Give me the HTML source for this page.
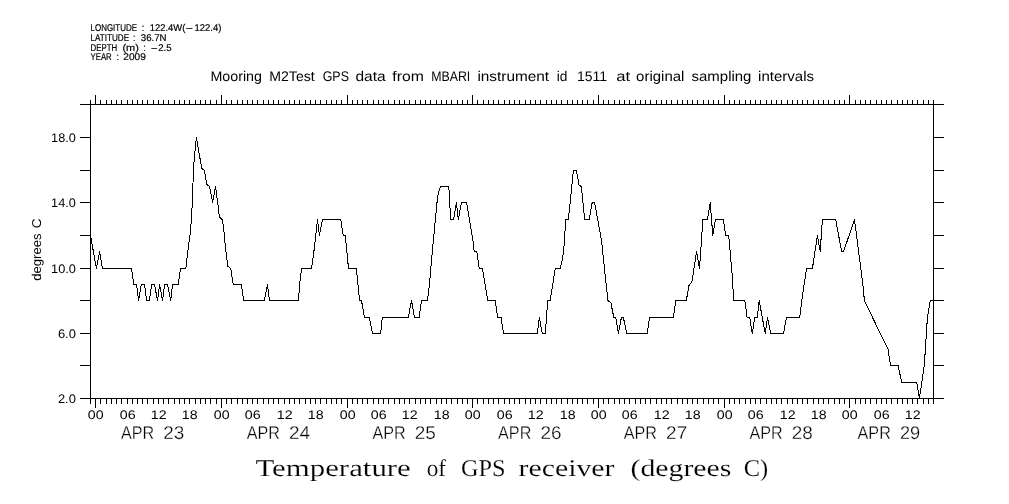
<!DOCTYPE html>
<html lang="en">
<head>
<meta charset="utf-8">
<title>Temperature of GPS receiver (degrees C)</title>
<style>
html,body{margin:0;padding:0;background:#fff;}
body{width:1009px;height:504px;overflow:hidden;}
svg{display:block;}
text{font-family:"Liberation Sans",sans-serif;fill:#000;text-rendering:geometricPrecision;}
.hdr text{font-size:9.8px;stroke:#000;stroke-width:.2px;}
.ttl{font-size:14px;}
.hrs text{font-size:12.5px;}
.days text{font-size:18.4px;stroke:#fff;stroke-width:.3px;}
.yl text{font-size:12.5px;}
.yl .rot{font-size:12.8px;}
.big{font-family:"Liberation Serif",serif;font-size:24px;stroke:#fff;stroke-width:.15px;}
.ln{fill:none;stroke:#000;stroke-width:1;shape-rendering:crispEdges;}
</style>
</head>
<body>
<svg width="1009" height="504" viewBox="0 0 1009 504">
<rect width="1009" height="504" fill="#fff"/>
<g class="hdr">
<text y="31"><tspan x="90.5" textLength="46.5" lengthAdjust="spacingAndGlyphs">LONGITUDE</tspan> <tspan x="141.8" textLength="2.5" lengthAdjust="spacingAndGlyphs">:</tspan> <tspan x="149.7" textLength="35.6" lengthAdjust="spacingAndGlyphs">122.4W(</tspan><tspan x="185.4" textLength="7.6" lengthAdjust="spacingAndGlyphs">-</tspan><tspan x="194.5" textLength="26.8" lengthAdjust="spacingAndGlyphs">122.4)</tspan></text>
<text y="41"><tspan x="90.5" textLength="38.6" lengthAdjust="spacingAndGlyphs">LATITUDE</tspan> <tspan x="132.9" textLength="2.4" lengthAdjust="spacingAndGlyphs">:</tspan> <tspan x="140.8" textLength="25.8" lengthAdjust="spacingAndGlyphs">36.7N</tspan></text>
<text y="50.8"><tspan x="90.5" textLength="26.7" lengthAdjust="spacingAndGlyphs">DEPTH</tspan> <tspan x="122.4" textLength="16.4" lengthAdjust="spacingAndGlyphs">(m)</tspan> <tspan x="143.2" textLength="2.4" lengthAdjust="spacingAndGlyphs">:</tspan> <tspan x="150.8" textLength="7.0" lengthAdjust="spacingAndGlyphs">-</tspan><tspan x="158.2" textLength="13.4" lengthAdjust="spacingAndGlyphs">2.5</tspan></text>
<text y="60"><tspan x="90.5" textLength="21.2" lengthAdjust="spacingAndGlyphs">YEAR</tspan> <tspan x="116.5" textLength="2.4" lengthAdjust="spacingAndGlyphs">:</tspan> <tspan x="123.3" textLength="22.5" lengthAdjust="spacingAndGlyphs">2009</tspan></text>
</g>
<text class="ttl" y="81"><tspan x="210.4" textLength="51.6" lengthAdjust="spacingAndGlyphs">Mooring</tspan> <tspan x="269.3" textLength="45.4" lengthAdjust="spacingAndGlyphs">M2Test</tspan> <tspan x="322.7" textLength="26.3" lengthAdjust="spacingAndGlyphs">GPS</tspan> <tspan x="355.4" textLength="30.2" lengthAdjust="spacingAndGlyphs">data</tspan> <tspan x="392.3" textLength="31.5" lengthAdjust="spacingAndGlyphs">from</tspan> <tspan x="431.2" textLength="39.1" lengthAdjust="spacingAndGlyphs">MBARI</tspan> <tspan x="477.4" textLength="71.7" lengthAdjust="spacingAndGlyphs">instrument</tspan> <tspan x="556.7" textLength="10.7" lengthAdjust="spacingAndGlyphs">id</tspan> <tspan x="576.9" textLength="30.1" lengthAdjust="spacingAndGlyphs">1511</tspan> <tspan x="616.2" textLength="13.9" lengthAdjust="spacingAndGlyphs">at</tspan> <tspan x="636.1" textLength="48.3" lengthAdjust="spacingAndGlyphs">original</tspan> <tspan x="691.6" textLength="59.8" lengthAdjust="spacingAndGlyphs">sampling</tspan> <tspan x="758.1" textLength="55.9" lengthAdjust="spacingAndGlyphs">intervals</tspan></text>
<path class="ln" d="M80,104.5H944M80,398.5H944M90.5,104.5V398.5M933.5,104.5V398.5"/>
<path class="ln" d="M95.5,104.5V95.0M100.5,104.5V100.0M106.5,104.5V100.0M111.5,104.5V100.0M116.5,104.5V100.0M121.5,104.5V100.0M127.5,104.5V100.0M132.5,104.5V100.0M137.5,104.5V100.0M142.5,104.5V100.0M147.5,104.5V100.0M153.5,104.5V100.0M158.5,104.5V100.0M163.5,104.5V100.0M168.5,104.5V100.0M174.5,104.5V100.0M179.5,104.5V100.0M184.5,104.5V100.0M189.5,104.5V100.0M195.5,104.5V100.0M200.5,104.5V100.0M205.5,104.5V100.0M210.5,104.5V100.0M216.5,104.5V100.0M221.5,104.5V95.0M226.5,104.5V100.0M231.5,104.5V100.0M237.5,104.5V100.0M242.5,104.5V100.0M247.5,104.5V100.0M252.5,104.5V100.0M257.5,104.5V100.0M263.5,104.5V100.0M268.5,104.5V100.0M273.5,104.5V100.0M278.5,104.5V100.0M284.5,104.5V100.0M289.5,104.5V100.0M294.5,104.5V100.0M299.5,104.5V100.0M305.5,104.5V100.0M310.5,104.5V100.0M315.5,104.5V100.0M320.5,104.5V100.0M326.5,104.5V100.0M331.5,104.5V100.0M336.5,104.5V100.0M341.5,104.5V100.0M347.5,104.5V95.0M352.5,104.5V100.0M357.5,104.5V100.0M362.5,104.5V100.0M367.5,104.5V100.0M373.5,104.5V100.0M378.5,104.5V100.0M383.5,104.5V100.0M388.5,104.5V100.0M394.5,104.5V100.0M399.5,104.5V100.0M404.5,104.5V100.0M409.5,104.5V100.0M415.5,104.5V100.0M420.5,104.5V100.0M425.5,104.5V100.0M430.5,104.5V100.0M436.5,104.5V100.0M441.5,104.5V100.0M446.5,104.5V100.0M451.5,104.5V100.0M457.5,104.5V100.0M462.5,104.5V100.0M467.5,104.5V100.0M472.5,104.5V95.0M477.5,104.5V100.0M483.5,104.5V100.0M488.5,104.5V100.0M493.5,104.5V100.0M498.5,104.5V100.0M504.5,104.5V100.0M509.5,104.5V100.0M514.5,104.5V100.0M519.5,104.5V100.0M525.5,104.5V100.0M530.5,104.5V100.0M535.5,104.5V100.0M540.5,104.5V100.0M546.5,104.5V100.0M551.5,104.5V100.0M556.5,104.5V100.0M561.5,104.5V100.0M567.5,104.5V100.0M572.5,104.5V100.0M577.5,104.5V100.0M582.5,104.5V100.0M587.5,104.5V100.0M593.5,104.5V100.0M598.5,104.5V95.0M603.5,104.5V100.0M608.5,104.5V100.0M614.5,104.5V100.0M619.5,104.5V100.0M624.5,104.5V100.0M629.5,104.5V100.0M635.5,104.5V100.0M640.5,104.5V100.0M645.5,104.5V100.0M650.5,104.5V100.0M656.5,104.5V100.0M661.5,104.5V100.0M666.5,104.5V100.0M671.5,104.5V100.0M677.5,104.5V100.0M682.5,104.5V100.0M687.5,104.5V100.0M692.5,104.5V100.0M697.5,104.5V100.0M703.5,104.5V100.0M708.5,104.5V100.0M713.5,104.5V100.0M718.5,104.5V100.0M724.5,104.5V95.0M729.5,104.5V100.0M734.5,104.5V100.0M739.5,104.5V100.0M745.5,104.5V100.0M750.5,104.5V100.0M755.5,104.5V100.0M760.5,104.5V100.0M766.5,104.5V100.0M771.5,104.5V100.0M776.5,104.5V100.0M781.5,104.5V100.0M787.5,104.5V100.0M792.5,104.5V100.0M797.5,104.5V100.0M802.5,104.5V100.0M807.5,104.5V100.0M813.5,104.5V100.0M818.5,104.5V100.0M823.5,104.5V100.0M828.5,104.5V100.0M834.5,104.5V100.0M839.5,104.5V100.0M844.5,104.5V100.0M849.5,104.5V95.0M855.5,104.5V100.0M860.5,104.5V100.0M865.5,104.5V100.0M870.5,104.5V100.0M876.5,104.5V100.0M881.5,104.5V100.0M886.5,104.5V100.0M891.5,104.5V100.0M897.5,104.5V100.0M902.5,104.5V100.0M907.5,104.5V100.0M912.5,104.5V100.0M917.5,104.5V100.0M923.5,104.5V100.0M928.5,104.5V100.0M933.5,104.5V100.0M90.5,104.5V100.0"/>
<path class="ln" d="M95.5,398.5V408.0M100.5,398.5V404.0M106.5,398.5V404.0M111.5,398.5V404.0M116.5,398.5V404.0M121.5,398.5V404.0M127.5,398.5V404.0M132.5,398.5V404.0M137.5,398.5V404.0M142.5,398.5V404.0M147.5,398.5V404.0M153.5,398.5V404.0M158.5,398.5V404.0M163.5,398.5V404.0M168.5,398.5V404.0M174.5,398.5V404.0M179.5,398.5V404.0M184.5,398.5V404.0M189.5,398.5V404.0M195.5,398.5V404.0M200.5,398.5V404.0M205.5,398.5V404.0M210.5,398.5V404.0M216.5,398.5V404.0M221.5,398.5V408.0M226.5,398.5V404.0M231.5,398.5V404.0M237.5,398.5V404.0M242.5,398.5V404.0M247.5,398.5V404.0M252.5,398.5V404.0M257.5,398.5V404.0M263.5,398.5V404.0M268.5,398.5V404.0M273.5,398.5V404.0M278.5,398.5V404.0M284.5,398.5V404.0M289.5,398.5V404.0M294.5,398.5V404.0M299.5,398.5V404.0M305.5,398.5V404.0M310.5,398.5V404.0M315.5,398.5V404.0M320.5,398.5V404.0M326.5,398.5V404.0M331.5,398.5V404.0M336.5,398.5V404.0M341.5,398.5V404.0M347.5,398.5V408.0M352.5,398.5V404.0M357.5,398.5V404.0M362.5,398.5V404.0M367.5,398.5V404.0M373.5,398.5V404.0M378.5,398.5V404.0M383.5,398.5V404.0M388.5,398.5V404.0M394.5,398.5V404.0M399.5,398.5V404.0M404.5,398.5V404.0M409.5,398.5V404.0M415.5,398.5V404.0M420.5,398.5V404.0M425.5,398.5V404.0M430.5,398.5V404.0M436.5,398.5V404.0M441.5,398.5V404.0M446.5,398.5V404.0M451.5,398.5V404.0M457.5,398.5V404.0M462.5,398.5V404.0M467.5,398.5V404.0M472.5,398.5V408.0M477.5,398.5V404.0M483.5,398.5V404.0M488.5,398.5V404.0M493.5,398.5V404.0M498.5,398.5V404.0M504.5,398.5V404.0M509.5,398.5V404.0M514.5,398.5V404.0M519.5,398.5V404.0M525.5,398.5V404.0M530.5,398.5V404.0M535.5,398.5V404.0M540.5,398.5V404.0M546.5,398.5V404.0M551.5,398.5V404.0M556.5,398.5V404.0M561.5,398.5V404.0M567.5,398.5V404.0M572.5,398.5V404.0M577.5,398.5V404.0M582.5,398.5V404.0M587.5,398.5V404.0M593.5,398.5V404.0M598.5,398.5V408.0M603.5,398.5V404.0M608.5,398.5V404.0M614.5,398.5V404.0M619.5,398.5V404.0M624.5,398.5V404.0M629.5,398.5V404.0M635.5,398.5V404.0M640.5,398.5V404.0M645.5,398.5V404.0M650.5,398.5V404.0M656.5,398.5V404.0M661.5,398.5V404.0M666.5,398.5V404.0M671.5,398.5V404.0M677.5,398.5V404.0M682.5,398.5V404.0M687.5,398.5V404.0M692.5,398.5V404.0M697.5,398.5V404.0M703.5,398.5V404.0M708.5,398.5V404.0M713.5,398.5V404.0M718.5,398.5V404.0M724.5,398.5V408.0M729.5,398.5V404.0M734.5,398.5V404.0M739.5,398.5V404.0M745.5,398.5V404.0M750.5,398.5V404.0M755.5,398.5V404.0M760.5,398.5V404.0M766.5,398.5V404.0M771.5,398.5V404.0M776.5,398.5V404.0M781.5,398.5V404.0M787.5,398.5V404.0M792.5,398.5V404.0M797.5,398.5V404.0M802.5,398.5V404.0M807.5,398.5V404.0M813.5,398.5V404.0M818.5,398.5V404.0M823.5,398.5V404.0M828.5,398.5V404.0M834.5,398.5V404.0M839.5,398.5V404.0M844.5,398.5V404.0M849.5,398.5V408.0M855.5,398.5V404.0M860.5,398.5V404.0M865.5,398.5V404.0M870.5,398.5V404.0M876.5,398.5V404.0M881.5,398.5V404.0M886.5,398.5V404.0M891.5,398.5V404.0M897.5,398.5V404.0M902.5,398.5V404.0M907.5,398.5V404.0M912.5,398.5V404.0M917.5,398.5V404.0M923.5,398.5V404.0M928.5,398.5V404.0M933.5,398.5V404.0M90.5,398.5V404.0"/>
<path class="ln" d="M80,398.5H90.5M933.5,398.5H944M80,365.5H90.5M933.5,365.5H944M80,333.5H90.5M933.5,333.5H944M80,300.5H90.5M933.5,300.5H944M80,268.5H90.5M933.5,268.5H944M80,235.5H90.5M933.5,235.5H944M80,202.5H90.5M933.5,202.5H944M80,170.5H90.5M933.5,170.5H944M80,137.5H90.5M933.5,137.5H944"/>
<polyline class="ln" points="90.5,235.5 96.4,268.5 99.6,251.5 102.5,268.5 131.5,268.5 133.9,284.5 136.6,284.5 138.5,300.5 141.3,284.5 144.5,284.5 146.6,300.5 149.3,300.5 151.7,284.5 154.5,284.5 157.5,300.5 159.6,284.5 162.5,300.5 164.7,284.5 167.5,284.5 170.7,300.5 172.6,284.5 178.2,284.5 180.5,268.5 185.8,268.5 188.4,246.8 190.1,233.9 191.3,221.3 192.1,206.3 193,182.7 193.7,165.3 194.8,153.5 196.4,137.5 201.7,168.4 204.4,170.5 206.7,184.3 209.6,186.5 212.6,202.5 215.5,186.5 218.6,209.7 219.4,217.2 222.3,219.5 223.4,225.9 225.5,248.2 227.9,266.4 230.7,268.5 233.3,284.5 241.4,284.5 243.6,300.5 264.4,300.5 267.4,284.5 269.4,300.5 298.5,300.5 299.6,284.5 301.5,268.5 311.5,268.5 313.9,251.5 315.8,235.5 317.5,219.5 319.4,235.5 322.6,219.5 340.7,219.5 343.3,235.5 345.3,235.5 348.5,268.5 356.4,268.5 359.6,300.5 361.5,300.5 364.4,317.5 369.4,317.5 372.6,333.5 380.6,333.5 382.3,317.5 408.3,317.5 411.5,300.5 414.4,317.5 419.1,317.5 421.5,300.5 427.4,300.5 429.4,284.5 432.5,249.7 437.6,196.3 440.4,186.5 448.8,186.5 450.7,219.5 453.6,219.5 456.4,202.5 458.3,219.5 461.5,202.5 466.6,202.5 472.9,240.3 474.2,251.5 476.8,251.5 479.2,268.5 482.4,268.5 487.7,300.5 495.3,300.5 497.7,317.5 501,317.5 503.6,333.5 537.3,333.5 539.3,317.5 542.3,333.5 545.3,333.5 547.7,300.5 550.2,300.5 555.2,268.5 560.2,268.5 562.5,259.5 564.7,240.3 565.4,219.5 568.4,219.5 573.4,170.5 576.3,170.5 579.1,185.1 581.3,186.5 584.7,219.5 589.2,219.5 592.2,202.5 594.6,202.5 601.5,240.3 603.5,259.5 607.9,300.5 610.9,302.8 613.8,317.5 615.8,317.5 618.4,333.5 621.4,317.5 623.4,317.5 626.7,333.5 647.2,333.5 649.6,317.5 673.4,317.5 675.8,300.5 686.3,300.5 689.2,284.5 691.8,282.6 696.6,251.5 699.5,268.5 702.9,219.5 707.4,219.5 710.2,202.5 712.8,235.5 715.4,219.5 723.3,219.5 725.7,235.5 728.7,235.5 732.6,279.5 733.5,300.5 744.8,300.5 747.1,317.5 749.7,317.5 752.3,333.5 754.7,317.5 757.3,317.5 759.2,300.5 765.2,333.5 767.6,317.5 770.6,333.5 783.5,333.5 786.4,317.5 799.7,317.5 803.3,289.5 806.6,268.5 812.4,268.5 817.4,235.5 820.2,251.5 822.4,219.5 835.7,219.5 841.6,251.5 843.6,251.5 854.5,219.5 863.5,289.5 864.3,300.5 888.1,349.5 890.5,365.5 898.1,365.5 901.7,382.5 916.7,382.5 919.4,398.5 924.3,365.5 927.4,317.5 930.3,300.5 933.3,300.5"/>
<g class="yl">
<text x="57.9" y="402.8" textLength="18.0" lengthAdjust="spacingAndGlyphs">2.0</text>
<text x="57.9" y="337.8" textLength="18.0" lengthAdjust="spacingAndGlyphs">6.0</text>
<text x="51.1" y="272.8" textLength="24.8" lengthAdjust="spacingAndGlyphs">10.0</text>
<text x="51.1" y="206.8" textLength="24.8" lengthAdjust="spacingAndGlyphs">14.0</text>
<text x="51.1" y="141.8" textLength="24.8" lengthAdjust="spacingAndGlyphs">18.0</text>
<text class="rot" transform="translate(40.7,280.7) rotate(-90)"><tspan x="0" textLength="47.2" lengthAdjust="spacingAndGlyphs">degrees</tspan> <tspan x="52.5" textLength="9.8" lengthAdjust="spacingAndGlyphs">C</tspan></text>
</g>
<g class="hrs">
<text x="87.8" y="419" textLength="15.8" lengthAdjust="spacingAndGlyphs">00</text>
<text x="119.8" y="419" textLength="15.8" lengthAdjust="spacingAndGlyphs">06</text>
<text x="150.8" y="419" textLength="15.8" lengthAdjust="spacingAndGlyphs">12</text>
<text x="181.8" y="419" textLength="15.8" lengthAdjust="spacingAndGlyphs">18</text>
<text x="213.8" y="419" textLength="15.8" lengthAdjust="spacingAndGlyphs">00</text>
<text x="244.8" y="419" textLength="15.8" lengthAdjust="spacingAndGlyphs">06</text>
<text x="276.8" y="419" textLength="15.8" lengthAdjust="spacingAndGlyphs">12</text>
<text x="307.8" y="419" textLength="15.8" lengthAdjust="spacingAndGlyphs">18</text>
<text x="339.8" y="419" textLength="15.8" lengthAdjust="spacingAndGlyphs">00</text>
<text x="370.8" y="419" textLength="15.8" lengthAdjust="spacingAndGlyphs">06</text>
<text x="401.8" y="419" textLength="15.8" lengthAdjust="spacingAndGlyphs">12</text>
<text x="433.8" y="419" textLength="15.8" lengthAdjust="spacingAndGlyphs">18</text>
<text x="464.8" y="419" textLength="15.8" lengthAdjust="spacingAndGlyphs">00</text>
<text x="496.8" y="419" textLength="15.8" lengthAdjust="spacingAndGlyphs">06</text>
<text x="527.8" y="419" textLength="15.8" lengthAdjust="spacingAndGlyphs">12</text>
<text x="559.8" y="419" textLength="15.8" lengthAdjust="spacingAndGlyphs">18</text>
<text x="590.8" y="419" textLength="15.8" lengthAdjust="spacingAndGlyphs">00</text>
<text x="621.8" y="419" textLength="15.8" lengthAdjust="spacingAndGlyphs">06</text>
<text x="653.8" y="419" textLength="15.8" lengthAdjust="spacingAndGlyphs">12</text>
<text x="684.8" y="419" textLength="15.8" lengthAdjust="spacingAndGlyphs">18</text>
<text x="716.8" y="419" textLength="15.8" lengthAdjust="spacingAndGlyphs">00</text>
<text x="747.8" y="419" textLength="15.8" lengthAdjust="spacingAndGlyphs">06</text>
<text x="779.8" y="419" textLength="15.8" lengthAdjust="spacingAndGlyphs">12</text>
<text x="810.8" y="419" textLength="15.8" lengthAdjust="spacingAndGlyphs">18</text>
<text x="841.8" y="419" textLength="15.8" lengthAdjust="spacingAndGlyphs">00</text>
<text x="873.8" y="419" textLength="15.8" lengthAdjust="spacingAndGlyphs">06</text>
<text x="904.8" y="419" textLength="15.8" lengthAdjust="spacingAndGlyphs">12</text>
</g>
<g class="days">
<text y="439.1"><tspan x="121.0" textLength="33.2" lengthAdjust="spacingAndGlyphs">APR</tspan> <tspan x="163.3" textLength="21.1" lengthAdjust="spacingAndGlyphs">23</tspan></text>
<text y="439.1"><tspan x="246.7" textLength="33.2" lengthAdjust="spacingAndGlyphs">APR</tspan> <tspan x="289.0" textLength="21.1" lengthAdjust="spacingAndGlyphs">24</tspan></text>
<text y="439.1"><tspan x="372.4" textLength="33.2" lengthAdjust="spacingAndGlyphs">APR</tspan> <tspan x="414.7" textLength="21.1" lengthAdjust="spacingAndGlyphs">25</tspan></text>
<text y="439.1"><tspan x="498.1" textLength="33.2" lengthAdjust="spacingAndGlyphs">APR</tspan> <tspan x="540.4" textLength="21.1" lengthAdjust="spacingAndGlyphs">26</tspan></text>
<text y="439.1"><tspan x="623.8" textLength="33.2" lengthAdjust="spacingAndGlyphs">APR</tspan> <tspan x="666.1" textLength="21.1" lengthAdjust="spacingAndGlyphs">27</tspan></text>
<text y="439.1"><tspan x="749.5" textLength="33.2" lengthAdjust="spacingAndGlyphs">APR</tspan> <tspan x="791.8" textLength="21.1" lengthAdjust="spacingAndGlyphs">28</tspan></text>
<text y="439.1"><tspan x="857.6" textLength="33.2" lengthAdjust="spacingAndGlyphs">APR</tspan> <tspan x="899.9" textLength="20.2" lengthAdjust="spacingAndGlyphs">29</tspan></text>
</g>
<text class="big" y="475.8" transform="scale(1.0,1)"><tspan x="255.4" textLength="155.4" lengthAdjust="spacingAndGlyphs">Temperature</tspan> <tspan x="426.7" textLength="19.3" lengthAdjust="spacingAndGlyphs">of</tspan> <tspan x="460.9" textLength="44.5" lengthAdjust="spacingAndGlyphs">GPS</tspan> <tspan x="518.6" textLength="95.9" lengthAdjust="spacingAndGlyphs">receiver</tspan> <tspan x="630.5" textLength="100.9" lengthAdjust="spacingAndGlyphs">(degrees</tspan> <tspan x="743.7" textLength="24.4" lengthAdjust="spacingAndGlyphs">C)</tspan></text>
</svg>
</body>
</html>
